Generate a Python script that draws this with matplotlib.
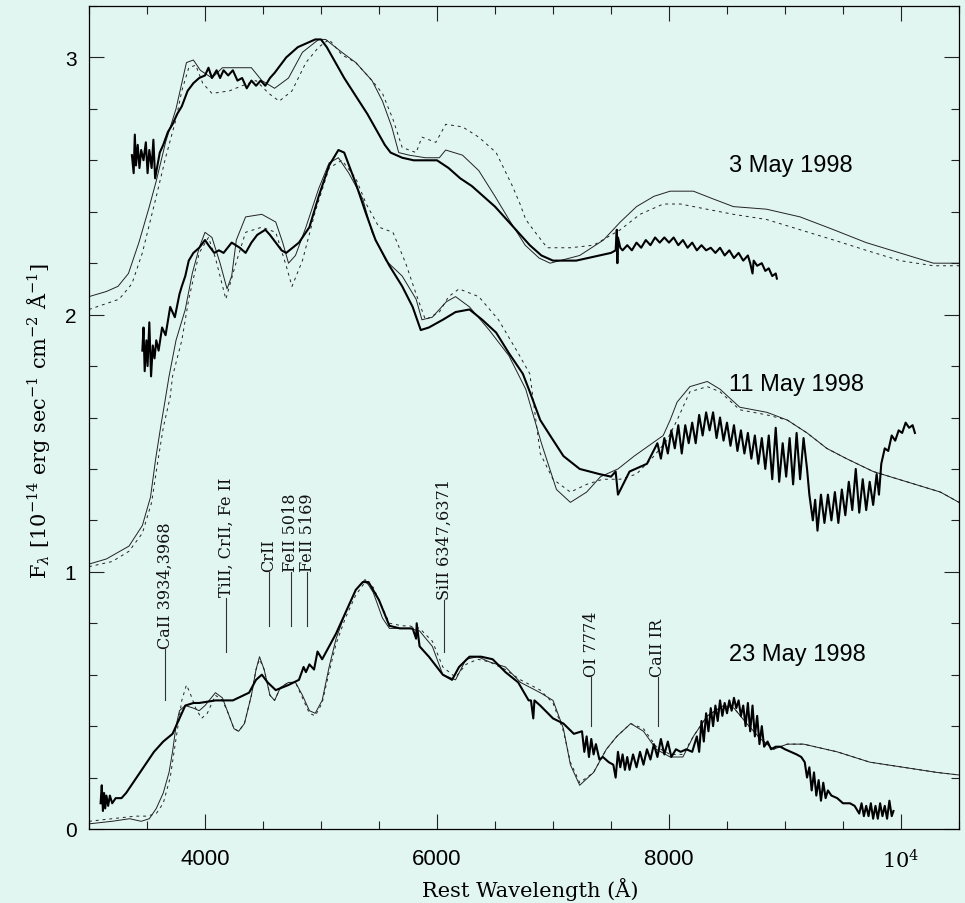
import numpy as np
import matplotlib
matplotlib.use("Agg")
import matplotlib.pyplot as plt
from matplotlib.ticker import MultipleLocator, FixedLocator, FixedFormatter

plt.rcParams['mathtext.fontset'] = 'dejavuserif'

bg = '#e1f6f1'

# ---- 3 May 1998 ----
wl_obs1 = [3370, 3385, 3395, 3405, 3420, 3435, 3450, 3470, 3490, 3505, 3520, 3540, 3555, 3570,
           3590, 3610, 3640, 3680, 3720, 3760, 3800, 3850, 3900, 3950, 4000, 4030, 4060, 4100,
           4130, 4160, 4200, 4240, 4280, 4320, 4360, 4400, 4440, 4480, 4520, 4560, 4600, 4650,
           4700, 4750, 4800, 4850, 4900, 4950, 5000, 5050, 5100, 5150, 5200, 5300, 5400, 5500,
           5550, 5600, 5700, 5800, 5900, 6000, 6100, 6200, 6300, 6400, 6500, 6600, 6700, 6800,
           6900, 7000, 7100, 7200, 7300, 7400, 7500, 7540, 7550, 7555, 7560, 7580, 7600, 7640,
           7680, 7720, 7760, 7800, 7840, 7880, 7920, 7960, 8000, 8040, 8080, 8120, 8160, 8200,
           8240, 8280, 8320, 8360, 8400, 8440, 8480, 8520, 8560, 8600, 8640, 8680, 8700, 8720,
           8730, 8760, 8800, 8830, 8860, 8890, 8920, 8930]
fl_obs1 = [2.62, 2.55, 2.70, 2.58, 2.66, 2.57, 2.64, 2.60, 2.67, 2.55, 2.64, 2.57, 2.68, 2.53,
           2.58, 2.63, 2.66, 2.71, 2.74, 2.78, 2.81, 2.87, 2.90, 2.92, 2.93, 2.96, 2.92, 2.95,
           2.92, 2.95, 2.93, 2.95, 2.91, 2.92, 2.88, 2.91, 2.89, 2.91, 2.89, 2.92, 2.94, 2.97,
           3.00, 3.02, 3.04, 3.05, 3.06, 3.07, 3.07, 3.04, 3.00, 2.96, 2.92, 2.85, 2.78, 2.70,
           2.66, 2.63, 2.61, 2.60, 2.60, 2.60, 2.57, 2.53, 2.50, 2.46, 2.42, 2.37, 2.32, 2.27,
           2.23, 2.21, 2.21, 2.21, 2.22, 2.23, 2.24, 2.25, 2.33, 2.20, 2.30, 2.26, 2.25, 2.27,
           2.25, 2.28, 2.26, 2.29, 2.27, 2.30, 2.28, 2.30, 2.28, 2.30, 2.27, 2.29, 2.26, 2.28,
           2.25, 2.27, 2.25, 2.26, 2.24, 2.26, 2.23, 2.25, 2.22, 2.24, 2.21, 2.23, 2.20, 2.16,
           2.21, 2.19, 2.20, 2.17, 2.18, 2.15, 2.16, 2.14]

wl_mod1a = [3000, 3150, 3250, 3340, 3430, 3520, 3580, 3660, 3750, 3800, 3840, 3900, 3960, 4060,
            4150, 4250, 4400, 4490, 4600, 4720, 4840, 4980, 5040, 5180, 5300, 5440, 5530, 5610,
            5670, 5760, 5900, 6020, 6075, 6220, 6360, 6500, 6620, 6760, 6880, 6975, 7230, 7435,
            7580, 7720, 7870, 8010, 8210, 8380, 8555, 8840, 9130, 9420, 9700, 9990, 10280, 10500]
fl_mod1a = [2.07, 2.09, 2.11, 2.16, 2.28, 2.42, 2.52, 2.67, 2.80, 2.90, 2.98, 2.99, 2.95, 2.92,
            2.96, 2.96, 2.96, 2.91, 2.88, 2.92, 3.02, 3.07, 3.07, 3.02, 2.98, 2.91, 2.83, 2.73,
            2.63, 2.62, 2.61, 2.61, 2.64, 2.62, 2.56, 2.46, 2.37, 2.27, 2.22, 2.20, 2.23, 2.29,
            2.36, 2.42, 2.46, 2.48, 2.48, 2.45, 2.42, 2.41, 2.38, 2.33, 2.28, 2.24, 2.20, 2.20]

wl_mod1b = [3000, 3260, 3370, 3460, 3575, 3660, 3750, 3800, 3860, 3920, 3980, 4060, 4210, 4320,
            4440, 4550, 4640, 4750, 4870, 4980, 5070, 5180, 5300, 5440, 5530, 5620, 5700, 5820,
            5870, 5990, 6075, 6220, 6360, 6510, 6650, 6716, 6765, 6830, 6950, 7150, 7350, 7580,
            7750, 7950, 8100, 8325, 8555, 8840, 9130, 9420, 9700, 9990, 10280, 10500]
fl_mod1b = [2.02, 2.06, 2.12, 2.24, 2.45, 2.61, 2.76, 2.87, 2.96, 2.97, 2.90, 2.86, 2.87, 2.89,
            2.91, 2.86, 2.83, 2.87, 2.98, 3.04, 3.07, 3.01, 2.98, 2.91, 2.86, 2.76, 2.65, 2.63,
            2.69, 2.67, 2.74, 2.73, 2.69, 2.63, 2.50, 2.43, 2.37, 2.33, 2.26, 2.26, 2.27, 2.33,
            2.39, 2.43, 2.43, 2.41, 2.39, 2.37, 2.33, 2.29, 2.25, 2.21, 2.19, 2.19]

# ---- 11 May 1998 ----
wl_obs2 = [3460, 3470, 3480, 3495, 3505, 3520, 3535, 3550, 3565, 3580, 3600, 3630, 3660, 3700,
           3740, 3780, 3800, 3830, 3860, 3900, 3950, 4000, 4030, 4080, 4120, 4160, 4230, 4300,
           4350, 4400, 4450, 4520, 4560, 4610, 4660, 4700, 4810, 4900, 4980, 5070, 5150, 5200,
           5300, 5390, 5470, 5590, 5700, 5790, 5860, 5930, 6050, 6160, 6280, 6390, 6510, 6620,
           6740, 6800, 6890, 6975, 7090, 7230, 7400, 7500, 7540, 7560, 7660, 7810,
           7900, 7930, 7960, 7990, 8020, 8050, 8080, 8110, 8140, 8170, 8200, 8230, 8260, 8290,
           8320, 8350, 8380, 8410, 8440, 8470, 8500, 8530, 8560, 8590, 8620, 8650, 8680, 8710,
           8740, 8770, 8800, 8830, 8860, 8890, 8920, 8950, 8980, 9010, 9040, 9070, 9100, 9130,
           9160, 9190, 9210, 9240, 9260, 9280, 9310, 9340, 9370, 9400, 9430, 9460, 9490, 9520,
           9550, 9580, 9610, 9640, 9670, 9700, 9730, 9760, 9790, 9810, 9830, 9860, 9890, 9920,
           9950, 9980, 10010, 10040, 10070, 10100, 10120]
fl_obs2 = [1.86, 1.95, 1.78, 1.90, 1.80, 1.97, 1.76, 1.88, 1.83, 1.90, 1.86, 1.95, 1.92, 2.03,
           1.99, 2.08, 2.11, 2.15, 2.21, 2.24, 2.26, 2.29, 2.27, 2.24, 2.25, 2.24, 2.28, 2.26,
           2.24, 2.28, 2.31, 2.33, 2.31, 2.28, 2.25, 2.24, 2.28, 2.34, 2.46, 2.58, 2.64, 2.63,
           2.51, 2.39, 2.29, 2.19, 2.11, 2.03, 1.94, 1.95, 1.98, 2.01, 2.02, 1.98, 1.93, 1.85,
           1.77, 1.70, 1.59, 1.53, 1.45, 1.40, 1.38, 1.37, 1.39, 1.30, 1.39, 1.42,
           1.50, 1.44, 1.52, 1.46, 1.55, 1.48, 1.57, 1.46, 1.57, 1.50, 1.58, 1.50, 1.61, 1.53,
           1.62, 1.55, 1.62, 1.52, 1.60, 1.51, 1.58, 1.49, 1.57, 1.47, 1.55, 1.46, 1.54, 1.44,
           1.53, 1.42, 1.52, 1.40, 1.53, 1.36, 1.56, 1.35, 1.50, 1.37, 1.52, 1.34, 1.54, 1.36,
           1.52, 1.40, 1.30, 1.20, 1.28, 1.16, 1.30, 1.19, 1.30, 1.20, 1.31, 1.19, 1.32, 1.22,
           1.35, 1.24, 1.40, 1.23, 1.36, 1.24, 1.35, 1.26, 1.38, 1.30, 1.42, 1.48, 1.47, 1.53,
           1.51, 1.55, 1.54, 1.58, 1.56, 1.57, 1.54]

wl_mod2a = [3000, 3150, 3345, 3460, 3530, 3575, 3620, 3650, 3690, 3750, 3830, 3890, 3950, 4000,
            4060, 4130, 4190, 4230, 4270, 4350, 4490, 4610, 4670, 4720, 4780, 4870, 4980, 5070,
            5150, 5240, 5360, 5440, 5560, 5700, 5820, 5870, 5960, 6080, 6160, 6280, 6450, 6620,
            6765, 6900, 7030, 7150, 7290, 7410, 7560, 7700, 7950, 8010, 8070, 8180, 8330, 8440,
            8610, 8845, 9020, 9190, 9360, 9530, 9760, 10050, 10340, 10500]
fl_mod2a = [1.03, 1.05, 1.10, 1.18, 1.29, 1.44, 1.57, 1.65, 1.76, 1.90, 2.02, 2.16, 2.26, 2.32,
            2.30, 2.20, 2.10, 2.15, 2.29, 2.38, 2.39, 2.36, 2.28, 2.20, 2.23, 2.34, 2.49, 2.59,
            2.61, 2.55, 2.45, 2.32, 2.21, 2.15, 2.06, 1.98, 1.99, 2.05, 2.07, 2.03, 1.94, 1.84,
            1.71, 1.50, 1.32, 1.27, 1.31, 1.37, 1.40, 1.45, 1.53, 1.59, 1.66, 1.72, 1.74, 1.71,
            1.64, 1.62, 1.59, 1.54, 1.48, 1.44, 1.39, 1.35, 1.31, 1.27]

wl_mod2b = [3000, 3200, 3345, 3460, 3540, 3590, 3640, 3700, 3720, 3800, 3860, 3950, 4030, 4090,
            4180, 4260, 4350, 4490, 4610, 4700, 4750, 4840, 4950, 5070, 5180, 5300, 5390, 5500,
            5620, 5730, 5820, 5900, 6020, 6100, 6190, 6360, 6530, 6700, 6800, 6890, 7000, 7150,
            7290, 7430, 7580, 7720, 7870, 7980, 8070, 8180, 8330, 8440, 8610, 8845, 9020, 9190,
            9360, 9530, 9760, 10050, 10340, 10500]
fl_mod2b = [1.02, 1.04, 1.08, 1.15, 1.27, 1.42, 1.56, 1.68, 1.76, 1.90, 2.06, 2.24, 2.30, 2.22,
            2.06, 2.19, 2.32, 2.34, 2.32, 2.19, 2.11, 2.21, 2.40, 2.57, 2.60, 2.53, 2.43, 2.34,
            2.32, 2.20, 2.08, 1.98, 2.01, 2.07, 2.10, 2.07, 1.98, 1.85, 1.77, 1.46, 1.36, 1.31,
            1.34, 1.36, 1.36, 1.38, 1.45, 1.51, 1.59, 1.70, 1.72, 1.70, 1.63, 1.61, 1.59, 1.54,
            1.48, 1.44, 1.39, 1.35, 1.31, 1.27]

# ---- 23 May 1998 ----
wl_obs3 = [3100, 3110, 3120, 3130, 3140, 3150, 3165, 3180, 3200, 3230, 3280, 3320, 3380, 3440,
           3500, 3560, 3640, 3720, 3780, 3830, 3900, 3950, 4090, 4240, 4380, 4440, 4490, 4540,
           4610, 4720, 4810, 4850, 4870, 4900, 4940, 4970, 5010, 5070, 5130, 5210, 5300, 5360,
           5410, 5500, 5590, 5680, 5790, 5820, 5825, 5850, 5930, 6050, 6130, 6190, 6280, 6380,
           6480, 6590, 6700, 6790, 6810, 6830, 6840, 6890, 7000, 7090, 7180,
           7250, 7270, 7290, 7310, 7330, 7350, 7370, 7400, 7430, 7480, 7520, 7540, 7560, 7580,
           7600, 7620, 7640, 7660, 7690, 7720, 7750, 7780, 7810, 7840, 7870, 7900, 7930, 7960,
           7990, 8020, 8060, 8100, 8150, 8200, 8240, 8260, 8280, 8300, 8320, 8340, 8360, 8380,
           8400, 8420, 8440, 8460, 8480, 8500, 8520, 8540, 8560, 8580, 8600, 8620, 8640, 8660,
           8680, 8700, 8720, 8740, 8760, 8780, 8800, 8820, 8850, 8880, 8920, 8960, 9000, 9050,
           9100, 9140, 9170, 9190, 9210, 9230, 9250, 9270, 9290, 9310, 9330, 9350, 9370, 9400,
           9450, 9500, 9560, 9600, 9640, 9660, 9680, 9700, 9720, 9740, 9760, 9780, 9800, 9820,
           9840, 9860, 9880, 9900, 9920, 9935]
fl_obs3 = [0.10, 0.17, 0.07, 0.14, 0.08, 0.13, 0.09, 0.13, 0.10, 0.12, 0.12, 0.14, 0.18, 0.22,
           0.26, 0.30, 0.34, 0.37, 0.43, 0.48, 0.49, 0.49, 0.50, 0.50, 0.53, 0.58, 0.60, 0.57,
           0.54, 0.56, 0.58, 0.63, 0.61, 0.64, 0.62, 0.69, 0.66, 0.71, 0.76, 0.84, 0.93, 0.96,
           0.96, 0.89, 0.79, 0.78, 0.78, 0.74, 0.80, 0.71, 0.67, 0.60, 0.58, 0.63, 0.67, 0.67,
           0.66, 0.61, 0.57, 0.50, 0.50, 0.43, 0.50, 0.48, 0.43, 0.41, 0.37,
           0.38, 0.30, 0.36, 0.28, 0.35, 0.29, 0.33, 0.27, 0.28, 0.26, 0.25, 0.20, 0.30, 0.24,
           0.29, 0.23, 0.28, 0.23, 0.29, 0.24, 0.30, 0.25, 0.31, 0.27, 0.33, 0.28, 0.35, 0.29,
           0.34, 0.28, 0.31, 0.30, 0.31, 0.30, 0.36, 0.30, 0.42, 0.34, 0.45, 0.38, 0.47, 0.40,
           0.48, 0.42, 0.50, 0.44, 0.49, 0.45, 0.50, 0.46, 0.51, 0.47, 0.50, 0.44, 0.48, 0.40,
           0.49, 0.38, 0.48, 0.36, 0.44, 0.33, 0.40, 0.32, 0.34, 0.31, 0.32, 0.32, 0.31, 0.30,
           0.29, 0.28, 0.26, 0.20, 0.24, 0.15, 0.22, 0.13, 0.19, 0.11, 0.18, 0.12, 0.15, 0.13,
           0.12, 0.10, 0.10, 0.09, 0.06, 0.10, 0.05, 0.09, 0.05, 0.10, 0.04, 0.09, 0.04, 0.10,
           0.05, 0.09, 0.04, 0.11, 0.05, 0.07]

wl_mod3a = [3000, 3200, 3350, 3450, 3520, 3580, 3640, 3690, 3720, 3750, 3780, 3830, 3900, 3950,
            4000, 4090, 4150, 4200, 4250, 4290, 4340, 4400, 4440, 4470, 4510, 4560, 4600, 4650,
            4720, 4780, 4840, 4900, 4950, 5010, 5070, 5130, 5210, 5300, 5380, 5450, 5530, 5590,
            5700, 5760, 5850, 5960, 6050, 6160, 6250, 6350, 6450, 6590, 6720, 6890, 7000, 7090,
            7150, 7230, 7350, 7460, 7550, 7670, 7780, 7890, 8010, 8120, 8210, 8330, 8470, 8560,
            8670, 8790, 8900, 9020, 9160, 9450, 9730, 10020, 10310, 10500]
fl_mod3a = [0.02, 0.03, 0.04, 0.03, 0.04, 0.08, 0.14, 0.22, 0.30, 0.40, 0.46, 0.48, 0.47, 0.46,
            0.48, 0.53, 0.51, 0.45, 0.39, 0.38, 0.41, 0.52, 0.62, 0.67, 0.62, 0.52, 0.50, 0.55,
            0.57, 0.57, 0.52, 0.46, 0.45, 0.50, 0.63, 0.74, 0.84, 0.93, 0.97, 0.92, 0.82, 0.78,
            0.78, 0.78, 0.77, 0.71, 0.60, 0.58, 0.66, 0.67, 0.65, 0.63, 0.57, 0.53, 0.50, 0.39,
            0.25, 0.17, 0.22, 0.31, 0.36, 0.41, 0.38, 0.31, 0.28, 0.28, 0.36, 0.44, 0.48, 0.47,
            0.41, 0.35, 0.31, 0.33, 0.33, 0.30, 0.26, 0.24, 0.22, 0.21]

wl_mod3b = [3000, 3200, 3400, 3500, 3580, 3640, 3700, 3750, 3800, 3840, 3870, 3920, 3970, 4020,
            4090, 4150, 4200, 4250, 4290, 4340, 4400, 4440, 4470, 4510, 4560, 4600, 4650, 4720,
            4780, 4840, 4900, 4950, 5010, 5070, 5130, 5210, 5300, 5380, 5450, 5530, 5590, 5700,
            5760, 5850, 5960, 6050, 6160, 6250, 6350, 6450, 6590, 6720, 6890, 7000, 7090, 7150,
            7230, 7350, 7460, 7550, 7670, 7780, 7890, 8010, 8120, 8210, 8330, 8470, 8560, 8670,
            8790, 8900, 9020, 9160, 9450, 9730, 10020, 10310, 10500]
fl_mod3b = [0.03, 0.04, 0.05, 0.05, 0.06, 0.10, 0.20, 0.35, 0.50, 0.56, 0.53, 0.47, 0.43, 0.45,
            0.52, 0.50, 0.45, 0.39, 0.38, 0.41, 0.52, 0.62, 0.66, 0.62, 0.52, 0.50, 0.55, 0.57,
            0.57, 0.51, 0.45, 0.44, 0.49, 0.61, 0.72, 0.82, 0.91, 0.96, 0.94, 0.86, 0.80, 0.79,
            0.79, 0.78, 0.73, 0.63, 0.59, 0.64, 0.66, 0.65, 0.62, 0.58, 0.54, 0.49, 0.38, 0.26,
            0.18, 0.22, 0.31, 0.36, 0.41, 0.39, 0.32, 0.29, 0.29, 0.36, 0.44, 0.48, 0.47, 0.41,
            0.35, 0.31, 0.33, 0.33, 0.30, 0.26, 0.24, 0.22, 0.21]

# line identifications: wavelength of the marker, label
line_wl = [3655, 4181, 4552, 4739, 4882, 6060, 7328, 7905]
line_names = ['CaII 3934,3968', 'TiII, CrII, Fe II', 'CrII', 'FeII 5018', 'FeII 5169',
              'SiII 6347,6371', 'OI 7774', 'CaII IR']
line_lo = [0.50, 0.69, 0.79, 0.79, 0.79, 0.69, 0.40, 0.40]
line_hi = [0.70, 0.90, 1.00, 1.00, 1.00, 0.89, 0.59, 0.59]

dates = ['3 May 1998', '11 May 1998', '23 May 1998']
date_y = [2.58, 1.73, 0.68]

fig = plt.figure(figsize=(9.65, 9.04), dpi=100, facecolor=bg)
ax = fig.add_axes([89/965, 74/904, 870/965, 823/904], facecolor=bg)

for wo, fo, wa, fa, wb, fb in [(wl_obs1, fl_obs1, wl_mod1a, fl_mod1a, wl_mod1b, fl_mod1b),
                               (wl_obs2, fl_obs2, wl_mod2a, fl_mod2a, wl_mod2b, fl_mod2b),
                               (wl_obs3, fl_obs3, wl_mod3a, fl_mod3a, wl_mod3b, fl_mod3b)]:
    ax.plot(wb, fb, color='#222222', lw=0.7, ls=(0, (3, 4)))
    ax.plot(wa, fa, color='#222222', lw=0.7)
    ax.plot(wo, fo, color='black', lw=1.5)

for w, name, lo, hi in zip(line_wl, line_names, line_lo, line_hi):
    ax.plot([w, w], [lo, hi], color='#333333', lw=0.8)
    ax.text(w, hi + 0.005, name, rotation=90, ha='center', va='bottom',
            family='DejaVu Serif', fontsize=11.5, color='#111111')

for d, y in zip(dates, date_y):
    ax.text(8513, y, d, ha='left', va='center', family='Liberation Sans', fontsize=17)

ax.set_xlim(3000, 10500)
ax.set_ylim(0, 3.2)
ax.xaxis.set_major_locator(FixedLocator([4000, 6000, 8000, 10000]))
ax.xaxis.set_major_formatter(FixedFormatter(['4000', '6000', '8000', r'$10^4$']))
ax.xaxis.set_minor_locator(MultipleLocator(500))
ax.yaxis.set_major_locator(MultipleLocator(1))
ax.yaxis.set_minor_locator(MultipleLocator(0.2))
ax.tick_params(which='both', direction='in', top=True, right=True, width=0.8, color='#222222')
ax.tick_params(which='major', length=11)
ax.tick_params(which='minor', length=5.5)
ax.tick_params(axis='x', pad=14, labelsize=16)
ax.tick_params(axis='y', pad=9, labelsize=15)
for lab in ax.get_xticklabels() + ax.get_yticklabels():
    lab.set_family('Liberation Sans')
ax.get_xticklabels()[3].set_fontsize(15)
for s in ax.spines.values():
    s.set_linewidth(0.9)

ax.set_xlabel('Rest Wavelength (Å)', family='DejaVu Serif', fontsize=15, va='center')
ax.xaxis.set_label_coords(0.507, -0.0717)
ax.set_ylabel(r'F$_\lambda$ [10$^{-14}$ erg sec$^{-1}$ cm$^{-2}$ Å$^{-1}$]',
              family='DejaVu Serif', fontsize=15, va='center')
ax.yaxis.set_label_coords(-0.0586, 0.497)

fig.savefig('out.png', dpi=100, facecolor=bg)
